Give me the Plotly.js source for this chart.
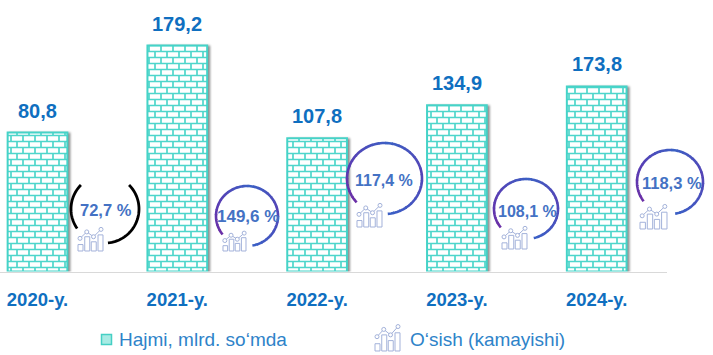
<!DOCTYPE html>
<html>
<head>
<meta charset="utf-8">
<script src="https://cdn.plot.ly/plotly-3.0.1.min.js"></script>
<style>html,body{margin:0;padding:0;background:#fff}#chart{width:713px;height:355px}</style>
</head>
<body>
<div id="chart"></div>
<script>
// Categories and printed labels
const years = ['2020-y.', '2021-y.', '2022-y.', '2023-y.', '2024-y.'];
const printedValues = ['80,8', '179,2', '107,8', '134,9', '173,8'];
// The reference's bar heights do not scale with its printed values, so the
// heights are read from the picture (scaled so the tallest bar equals 179.2).
const barHeights = [110.2, 179.2, 105.6, 131.8, 146.7];
const growthLabels = ['72,7 %', '149,6 %', '117,4 %', '108,1 %', '118,3 %'];
const legendNames = ['Hajmi, mlrd. so‘mda', 'O‘sish (kamayishi)'];

// Decoration layout, in page pixels
const W = 713, H = 355, BASE = 271.5, AXIS_END = 667;
const growthCentres = [[106,210,16.5],[248,216,17],[384,180,16],[527,211,16],[672,183,16.5]];
const ringGeom = [[247,216,31,30,218,-80],[384.5,178.5,37.5,35.5,222,-85],[526,209,32,30,218,-76],[670,182,33,32,217,-81]];
const blackArcs = [[105,209,34,34,135,215],[105,209,34,34,45,-85]];
const iconBoxes = [[78,228,25,23],[223,232,23,19],[357,204,25,23],[502,227,25,22],[640,205,27,24],[375,325,25,26]];

const px = x => x / W, py = y => 1 - y / H;
const shapes = [];
function seg(d, color, width, fill) {
  shapes.push({type:'path', xref:'paper', yref:'paper', path:d, layer:'above',
    line:{color:color, width:width}, fillcolor: fill || 'rgba(0,0,0,0)'});
}
function arcPath(g, a0, a1, n) {
  let d = '';
  for (let i = 0; i <= n; i++) {
    const a = (a0 + (a1 - a0) * i / n) * Math.PI / 180;
    const x = g[0] + g[2] * Math.cos(a), y = g[1] - g[3] * Math.sin(a);
    d += (i ? 'L' : 'M') + px(x).toFixed(5) + ',' + py(y).toFixed(5);
  }
  return d;
}
const stops = [[0,[108,46,166]],[.22,[88,62,180]],[.45,[60,96,196]],[.68,[84,68,182]],[1,[58,96,198]]];
function ringColor(p) {
  for (let i = 1; i < stops.length; i++) if (p <= stops[i][0]) {
    const a = stops[i-1], b = stops[i], t = (p - a[0]) / (b[0] - a[0]);
    const c = a[1].map((v, k) => Math.round(v + (b[1][k] - v) * t));
    return 'rgb(' + c.join(',') + ')';
  }
  return 'rgb(58,96,198)';
}
ringGeom.forEach(g => {
  const n = 30, a0 = g[4], a1 = g[5];
  for (let i = 0; i < n; i++) {
    const s = a0 + (a1 - a0) * i / n, e = a0 + (a1 - a0) * (i + 1.15) / n;
    seg(arcPath(g, s, i === n - 1 ? a1 : e, 4), ringColor((i + .5) / n), 2.6);
  }
});
blackArcs.forEach(g => seg(arcPath(g, g[4], g[5], 40), '#000000', 2.8));

function icon(b) {
  const [x, y, w, h] = b, c = '#a3b2da';
  const X = u => px(x + u * w).toFixed(5), Y = v => py(y + v * h).toFixed(5);
  [[0,.2,.72],[.27,.47,.38],[.53,.73,.6],[.8,1,.3]].forEach(r => {
    seg('M'+X(r[0])+','+Y(1)+'L'+X(r[0])+','+Y(r[2])+'L'+X(r[1])+','+Y(r[2])+'L'+X(r[1])+','+Y(1)+'Z', c, 1);
  });
  const pts = [[.08,.45],[.35,.17],[.62,.38],[.92,.06]];
  seg('M' + pts.map(p => X(p[0]) + ',' + Y(p[1])).join('L'), c, 1);
  pts.forEach(p => {
    const cx = x + p[0] * w, cy = y + p[1] * h, r = 2;
    shapes.push({type:'circle', xref:'paper', yref:'paper', layer:'above',
      x0:px(cx-r), x1:px(cx+r), y0:py(cy+r), y1:py(cy-r),
      line:{color:c, width:1}, fillcolor:'#ffffff'});
  });
}
iconBoxes.forEach(icon);
// legend swatch
shapes.push({type:'rect', xref:'paper', yref:'paper', layer:'above',
  x0:px(101.5), x1:px(111.5), y0:py(344.5), y1:py(334.5),
  line:{color:'#45cfc4', width:1.5}, fillcolor:'#a8ebe4'});

const annotations = [];
const blue = '#0f6fc0';
years.forEach((c, i) => annotations.push({x:c, y:barHeights[i], xref:'x', yref:'y',
  text:printedValues[i], showarrow:false, xanchor:'center', yanchor:'bottom', yshift:9,
  font:{family:'Liberation Sans', size:20, color:blue, weight:700}}));
growthLabels.forEach((t, i) => annotations.push({x:px(growthCentres[i][0]), y:py(growthCentres[i][1]),
  xref:'paper', yref:'paper', text:t, showarrow:false, xanchor:'center', yanchor:'middle',
  font:{family:'Liberation Sans', size:growthCentres[i][2], color:'#4472c4', weight:700}}));
annotations.push({x:px(117), y:py(339), xref:'paper', yref:'paper', text:legendNames[0], showarrow:false,
  xanchor:'left', yanchor:'middle', font:{family:'Liberation Sans', size:19, color:'#2e83c9'}});
annotations.push({x:px(408), y:py(339), xref:'paper', yref:'paper', text:legendNames[1], showarrow:false,
  xanchor:'left', yanchor:'middle', font:{family:'Liberation Sans', size:19, color:'#2e83c9'}});

const unit = 139.8;
Plotly.newPlot('chart', [{
  type:'bar', x:years, y:barHeights, width:0.427, name:legendNames[0],
  marker:{color:'#ffffff', line:{color:'#45cfc4', width:1.5}}, hoverinfo:'skip'
}], {
  width:W, height:H, showlegend:false, paper_bgcolor:'#fff', plot_bgcolor:'#fff',
  margin:{l:0, r:0, t:0, b:0},
  xaxis:{domain:[0, AXIS_END / W], type:'category', categoryorder:'array', categoryarray:years,
    range:[-37.5 / unit, (AXIS_END - 37.5) / unit], showline:true, linecolor:'#d9d9d9', linewidth:1,
    showgrid:false, zeroline:false, ticks:'', ticklabelstandoff:11,
    tickfont:{family:'Liberation Sans', size:18.5, color:blue, weight:700}},
  yaxis:{domain:[1 - BASE / H, 1], range:[0, BASE / (226 / 179.2)], visible:false, fixedrange:true},
  shapes:shapes, annotations:annotations
}, {displayModeBar:false, staticPlot:true}).then(gd => {
  const svg = gd.querySelector('svg.main-svg');
  const NS = 'http://www.w3.org/2000/svg';
  const defs = svg.querySelector('defs');
  const pat = document.createElementNS(NS, 'pattern');
  pat.setAttribute('id', 'brick');
  pat.setAttribute('patternUnits', 'userSpaceOnUse');
  pat.setAttribute('width', '12'); pat.setAttribute('height', '12');
  pat.setAttribute('patternTransform', 'translate(8,0)');
  const bg = document.createElementNS(NS, 'rect');
  bg.setAttribute('width', '12'); bg.setAttribute('height', '12'); bg.setAttribute('fill', '#fff');
  pat.appendChild(bg);
  const p = document.createElementNS(NS, 'path');
  p.setAttribute('d', 'M0,3.5H12M0,9.5H12M3,3.5V9.5M9,-2.5V3.5M9,9.5V15.5');
  p.setAttribute('stroke', '#4ed6cb'); p.setAttribute('stroke-width', '1.7'); p.setAttribute('fill', 'none');
  pat.appendChild(p);
  defs.appendChild(pat);
  gd.querySelectorAll('.bars .point path').forEach(b => {
    b.style.fill = 'url(#brick)';
    b.style.stroke = '#45d3c8';
    b.style.strokeWidth = '2px';
    b.style.filter = 'drop-shadow(2.5px 1px 1.2px rgba(0,0,0,.45))';
  });
});
</script>
</body>
</html>
